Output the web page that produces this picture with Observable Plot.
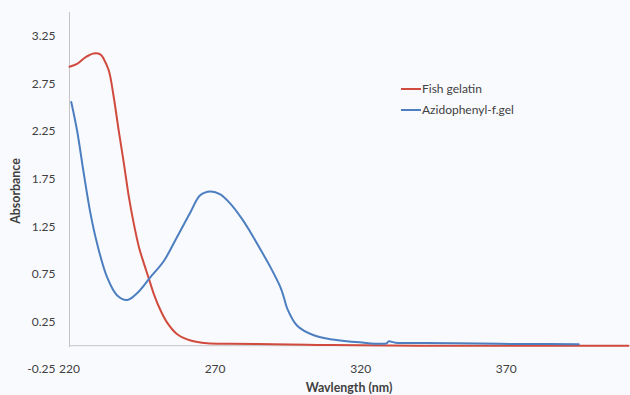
<!DOCTYPE html>
<html><head><meta charset="utf-8">
<script src="https://cdn.jsdelivr.net/npm/d3@7"></script>
<script src="https://cdn.jsdelivr.net/npm/@observablehq/plot@0.6"></script>
<style>
html,body{margin:0;padding:0;background:#f9fafd;}
#wrap{position:relative;width:630px;height:395px;font-family:Lato,"Open Sans",sans-serif;}
#wrap svg{position:absolute;left:0;top:0;}
.legend{position:absolute;left:401px;top:78px;font-size:12px;color:#404040;font-family:Lato,sans-serif;}
.legend .row{display:flex;align-items:center;height:21px;white-space:nowrap;}
.legend .sw{display:inline-block;width:20px;height:2px;margin-right:1px;}
svg [aria-label="y-axis label"] text, svg [aria-label="x-axis label"] text{font-weight:bold;font-size:12.4px;}
</style></head><body><div id="wrap"></div>
<script>
// Fish gelatin (red)
const wavelengthFish = [220, 222.6, 225.5, 228.3, 230.6, 231.8, 233.5, 235.2, 236.9, 238.7, 240.4, 242.1, 243.9, 245.6, 247.3, 249.0, 251.3, 253.6, 257.0, 261.6, 267.3, 275, 290, 305, 320, 340, 370, 412];
const absorbanceFish = [2.93, 2.96, 3.03, 3.07, 3.06, 3.01, 2.89, 2.61, 2.26, 1.91, 1.56, 1.28, 1.03, 0.86, 0.70, 0.54, 0.37, 0.24, 0.12, 0.055, 0.026, 0.02, 0.015, 0.008, 0.004, 0.0, 0.0, 0.0];
// Azidophenyl-f.gel (blue)
const wavelengthAzido = [220.6, 222.6, 224.9, 227.2, 229.5, 232.9, 236.3, 239.8, 243.2, 247.8, 252.4, 256.9, 261.5, 264.9, 268.4, 271.8, 275.3, 279.3, 282.2, 285.6, 289.1, 292.5, 293.6, 294.8, 298.2, 303.9, 310.4, 319.6, 328.9, 329.6, 332, 342.2, 360.7, 375.2, 394.9];
const absorbanceAzido = [2.56, 2.26, 1.81, 1.39, 1.07, 0.72, 0.53, 0.48, 0.55, 0.72, 0.89, 1.14, 1.40, 1.58, 1.62, 1.59, 1.49, 1.33, 1.19, 1.01, 0.82, 0.61, 0.51, 0.39, 0.21, 0.11, 0.065, 0.035, 0.025, 0.045, 0.032, 0.028, 0.022, 0.018, 0.015];

const yTicks = [-0.25, 0.25, 0.75, 1.25, 1.75, 2.25, 2.75, 3.25];
const xTicks = [220, 270, 320, 370];
const seriesNames = ["Fish gelatin", "Azidophenyl-f.gel"];
const seriesColors = ["#d04b3d", "#4c7ec0"];

const fish = wavelengthFish.map((w, i) => ({w, a: absorbanceFish[i]}));
const azido = wavelengthAzido.map((w, i) => ({w, a: absorbanceAzido[i]}));

const chart = Plot.plot({
  width: 630, height: 395,
  marginLeft: 69, marginRight: 2, marginTop: 12, marginBottom: 26,
  style: {background: "transparent", fontFamily: "Lato, sans-serif", fontSize: "12px", color: "#404040"},
  x: {domain: [220, 412]},
  y: {domain: [-0.25, 3.5]},
  marks: [
    Plot.ruleX([220], {y1: -0.02, y2: 3.5, stroke: "#c4c4c4", strokeWidth: 1}),
    Plot.ruleY([0], {stroke: "#c4c4c4", strokeWidth: 1}),
    Plot.axisY({ticks: yTicks, tickSize: 0, tickPadding: 14, tickFormat: d => d.toFixed(2), fontSize: 12,
      label: "Absorbance", labelAnchor: "center", labelArrow: "none", labelOffset: 58}),
    Plot.axisX({ticks: [], label: "Wavlength (nm)", labelAnchor: "center", labelArrow: "none", labelOffset: 22}),
    Plot.text(xTicks, {x: d => d, y: -0.25, text: d => String(d), fill: "#404040", fontSize: 12}),
    Plot.line(fish, {x: "w", y: "a", stroke: seriesColors[0], strokeWidth: 2, curve: "catmull-rom"}),
    Plot.line(azido, {x: "w", y: "a", stroke: seriesColors[1], strokeWidth: 2, curve: "catmull-rom"})
  ]
});
const wrap = document.getElementById("wrap");
wrap.appendChild(chart);
const leg = document.createElement("div");
leg.className = "legend";
seriesNames.forEach((n, i) => {
  const r = document.createElement("div");
  r.className = "row";
  const s = document.createElement("span");
  s.className = "sw";
  s.style.background = seriesColors[i];
  r.appendChild(s);
  r.appendChild(document.createTextNode(n));
  leg.appendChild(r);
});
wrap.appendChild(leg);
</script></body></html>
